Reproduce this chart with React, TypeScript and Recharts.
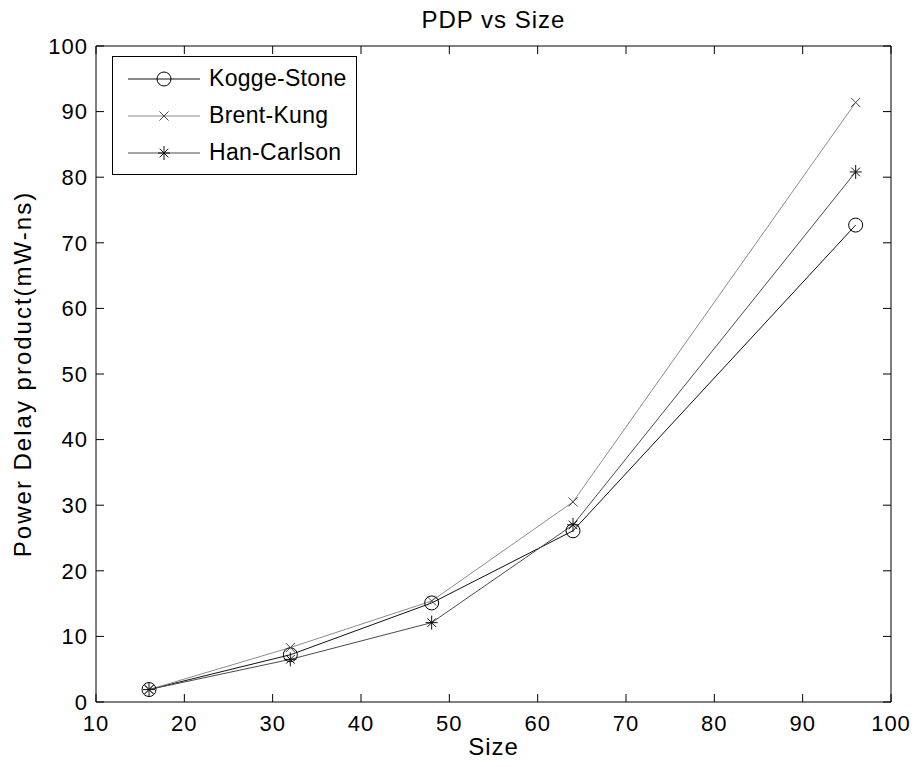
import { LineChart, Line, XAxis, YAxis, Legend, Label } from 'recharts'

// PDP vs adder size for the three prefix adders
const sizes = [16, 32, 48, 64, 96]
const koggeStone = [1.9, 7.2, 15.1, 26.1, 72.7]
const brentKung = [1.9, 8.3, 15.4, 30.5, 91.4]
const hanCarlson = [1.9, 6.5, 12.1, 27.0, 80.8]

const xTicks = [10, 20, 30, 40, 50, 60, 70, 80, 90, 100]
const yTicks = [0, 10, 20, 30, 40, 50, 60, 70, 80, 90, 100]

const data = sizes.map((s, i) => ({
  size: s,
  ks: koggeStone[i],
  bk: brentKung[i],
  hc: hanCarlson[i],
}))

const FONT = '"Liberation Sans", Arial, Helvetica, sans-serif'
const tickStyle = { fontFamily: FONT, fontSize: 22, fill: '#000', letterSpacing: 1 }

const series = [
  { key: 'ks', name: 'Kogge-Stone', color: '#111', markColor: '#000', shape: 'circle' },
  { key: 'bk', name: 'Brent-Kung', color: '#8c8c8c', markColor: '#444', shape: 'x' },
  { key: 'hc', name: 'Han-Carlson', color: '#4a4a4a', markColor: '#111', shape: 'star' },
]

function Marker({ cx, cy, shape, color }: { cx: number; cy: number; shape: string; color: string }) {
  if (shape === 'circle') {
    return <circle cx={cx} cy={cy} r={7} fill="none" stroke={color} strokeWidth={1} />
  }
  const s = shape === 'x' ? 4.5 : 6
  const d = s * 0.72
  if (shape === 'x') {
    return (
      <g stroke={color} strokeWidth={1}>
        <line x1={cx - s} y1={cy - s} x2={cx + s} y2={cy + s} />
        <line x1={cx - s} y1={cy + s} x2={cx + s} y2={cy - s} />
      </g>
    )
  }
  return (
    <g stroke={color} strokeWidth={1}>
      <line x1={cx - s} y1={cy} x2={cx + s} y2={cy} />
      <line x1={cx} y1={cy - s - 1} x2={cx} y2={cy + s + 1} />
      <line x1={cx - d} y1={cy - d} x2={cx + d} y2={cy + d} />
      <line x1={cx - d} y1={cy + d} x2={cx + d} y2={cy - d} />
    </g>
  )
}

function LegendBox() {
  return (
    <div
      style={{
        border: '1px solid #000',
        background: '#fff',
        width: 245,
        height: 119,
        boxSizing: 'border-box',
        paddingTop: 3,
        fontFamily: FONT,
        fontSize: 23,
        letterSpacing: 0.3,
      }}
    >
      {series.map((s) => (
        <div key={s.key} style={{ display: 'flex', alignItems: 'center', height: 37 }}>
          <svg width={96} height={30} style={{ flex: 'none' }}>
            <line x1={15} y1={15} x2={87} y2={15} stroke={s.color} strokeWidth={1} />
            <Marker cx={51} cy={15} shape={s.shape} color={s.markColor} />
          </svg>
          <span style={{ lineHeight: '37px' }}>{s.name}</span>
        </div>
      ))}
    </div>
  )
}

export default function App() {
  return (
    <div style={{ position: 'absolute', left: 0, top: 0, width: 916, height: 767, background: '#fff' }}>
      <LineChart width={916} height={767} data={data} margin={{ top: 45, right: 24, bottom: 0, left: 0 }}>
        <XAxis
          xAxisId="bottom"
          dataKey="size"
          type="number"
          domain={[10, 100]}
          ticks={xTicks}
          height={65}
          tick={tickStyle}
          tickSize={-8}
          tickMargin={21}
          axisLine={{ stroke: '#000' }}
          tickLine={{ stroke: '#000' }}
          allowDataOverflow
        >
          <Label
            content={({ viewBox }: any) => (
              <text
                x={viewBox.x + viewBox.width / 2}
                y={viewBox.y + 53}
                textAnchor="middle"
                fontFamily={FONT}
                fontSize={24}
                letterSpacing={1}
                fill="#000"
              >
                Size
              </text>
            )}
          />
        </XAxis>
        {/* frame: top and right axes carry only inward ticks */}
        <XAxis
          xAxisId="top"
          dataKey="size"
          orientation="top"
          type="number"
          domain={[10, 100]}
          ticks={xTicks}
          height={1}
          tickFormatter={() => ''}
          tickSize={-8}
          axisLine={{ stroke: '#000' }}
          tickLine={{ stroke: '#000' }}
          allowDataOverflow
        >
          <Label
            content={({ viewBox }: any) => (
              <text
                x={viewBox.x + viewBox.width / 2}
                y={viewBox.y - 17}
                textAnchor="middle"
                fontFamily={FONT}
                fontSize={24}
                letterSpacing={1}
                fill="#000"
              >
                PDP vs Size
              </text>
            )}
          />
        </XAxis>
        <YAxis
          yAxisId="left"
          type="number"
          domain={[0, 100]}
          ticks={yTicks}
          width={96}
          tick={tickStyle}
          tickSize={-8}
          tickMargin={16}
          axisLine={{ stroke: '#000' }}
          tickLine={{ stroke: '#000' }}
          allowDataOverflow
        >
          <Label
            content={({ viewBox }: any) => {
              const cy = viewBox.y + viewBox.height / 2
              return (
                <text
                  x={22}
                  y={cy}
                  transform={`rotate(-90, 22, ${cy})`}
                  textAnchor="middle"
                  dominantBaseline="central"
                  fontFamily={FONT}
                  fontSize={24}
                  letterSpacing={2}
                  fill="#000"
                >
                  Power Delay product(mW-ns)
                </text>
              )
            }}
          />
        </YAxis>
        <YAxis
          yAxisId="right"
          orientation="right"
          type="number"
          domain={[0, 100]}
          ticks={yTicks}
          width={1}
          tickFormatter={() => ''}
          tickSize={-8}
          axisLine={{ stroke: '#000' }}
          tickLine={{ stroke: '#000' }}
          allowDataOverflow
        />
        <Legend
          layout="vertical"
          align="center"
          verticalAlign="middle"
          content={() => <LegendBox />}
          wrapperStyle={{ left: 112, top: 56, width: 245, height: 119 }}
        />
        <Line
          xAxisId="top"
          yAxisId="right"
          dataKey="ks"
          stroke="none"
          dot={false}
          activeDot={false}
          legendType="none"
          isAnimationActive={false}
        />
        {series.map((s) => (
          <Line
            key={s.key}
            xAxisId="bottom"
            yAxisId="left"
            dataKey={s.key}
            name={s.name}
            stroke={s.color}
            strokeWidth={1}
            isAnimationActive={false}
            dot={(p: any) => (
              <Marker key={`${s.key}-${p.index}`} cx={p.cx} cy={p.cy} shape={s.shape} color={s.markColor} />
            )}
            activeDot={false}
          />
        ))}
      </LineChart>
    </div>
  )
}
